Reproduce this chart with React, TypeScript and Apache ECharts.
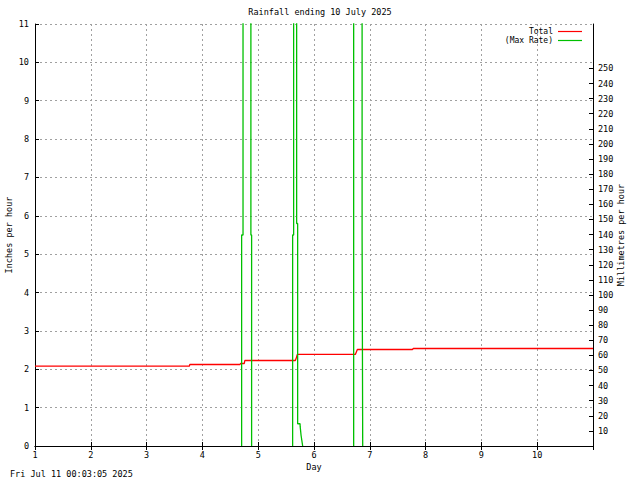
import React, { useEffect, useRef } from "react";
import * as echarts from "echarts";

const titleText = "Rainfall ending 10 July 2025";
const stampText = "Fri Jul 11 00:03:05 2025";

// Total (inches) : day positions and values
const totalDays = [1, 3.765, 3.775, 4.674, 4.684, 4.751, 4.76, 5.666, 5.685, 5.701, 6.741, 6.777, 7.764, 7.78, 11];
const totalValues = [2.08, 2.08, 2.125, 2.125, 2.151, 2.151, 2.229, 2.229, 2.307, 2.386, 2.386, 2.516, 2.516, 2.542, 2.542];

// Max rate (inches/hour); null = gap (zero rate hidden behind the axis)
const rateDays = [
  4.703, 4.703, 4.728, 4.728, 4.869, 4.869, 4.882, 4.882,
  5.2,
  5.617, 5.617, 5.635, 5.635, 5.689, 5.689, 5.707, 5.707, 5.75, 5.752, 5.768, 5.797,
  6.3,
  6.711, 6.711, 6.862, 6.862, 6.873, 6.873,
];
const rateValues = [
  0, 5.5, 5.5, 14, 14, 5.5, 5.5, 0,
  null,
  0, 5.5, 5.5, 14, 14, 5.8, 5.8, 0.58, 0.58, 0.51, 0.28, 0,
  null,
  0, 14, 14, 5.5, 5.5, 0,
];

const mmTicks = [10, 20, 30, 40, 50, 60, 70, 80, 90, 100, 110, 120, 130, 140, 150, 160, 170, 180, 190, 200, 210, 220, 230, 240, 250];

const FONT = "DejaVu Sans Mono";
const FS = 8.5;

export default function App() {
  const ref = useRef<HTMLDivElement>(null);
  useEffect(() => {
    if (!ref.current) return;
    const chart = echarts.init(ref.current, undefined, { renderer: "svg" });
    const textStyle = { fontFamily: FONT, fontSize: FS, color: "#000" };
    const gridLine = { show: true, lineStyle: { color: "#a0a0a0", type: [2, 3] as any, width: 1 } };
    const legendBase = {
      right: 58,
      align: "right",
      icon: "rect",
      itemWidth: 24,
      itemHeight: 1.2,
      itemGap: 2,
      padding: 0,
      inactiveColor: "#000",
      textStyle: { fontFamily: FONT, fontSize: 8, color: "#000", lineHeight: 8, height: 8 },
    };
    chart.setOption({
      animation: false,
      backgroundColor: "#fff",
      textStyle: { fontFamily: FONT },
      title: {
        text: titleText,
        left: "center",
        top: 2,
        textStyle: { ...textStyle, fontWeight: "normal" },
      },
      legend: [
        { ...legendBase, data: ["Total"], top: 27.5 },
        { ...legendBase, data: ["(Max Rate)"], top: 36.5 },
      ],
      grid: { left: 35, right: 47, top: 24, bottom: 34, outerBoundsMode: "none", containLabel: false },
      xAxis: [
        {
          type: "value",
          min: 1,
          max: 11,
          interval: 1,
          name: "Day",
          nameLocation: "middle",
          nameGap: 16,
          nameMoveOverlap: false,
          nameTextStyle: textStyle,
          axisLine: { show: true, lineStyle: { color: "#000", width: 1 } },
          axisTick: { show: true, inside: true, length: 4, lineStyle: { color: "#000" } },
          axisLabel: {
            ...textStyle,
            margin: 4,
            formatter: (v: number) => (v >= 11 ? "" : String(v)),
          },
          splitLine: gridLine,
        },
        {
          type: "value",
          position: "top",
          min: 1,
          max: 11,
          interval: 1,
          axisLine: { show: true, lineStyle: { color: "#000", width: 1 } },
          axisTick: { show: true, inside: true, length: 4, lineStyle: { color: "#000" } },
          axisLabel: { show: false },
          splitLine: { show: false },
        },
      ],
      yAxis: [
        {
          type: "value",
          min: 0,
          max: 11,
          interval: 1,
          name: "Inches per hour",
          nameLocation: "middle",
          nameGap: 22,
          nameMoveOverlap: false,
          nameTextStyle: textStyle,
          axisLine: { show: true, lineStyle: { color: "#000", width: 1 } },
          axisTick: { show: true, inside: true, length: 4, lineStyle: { color: "#000" } },
          axisLabel: { ...textStyle, margin: 6 },
          splitLine: gridLine,
        },
        {
          type: "value",
          position: "right",
          min: 0,
          max: 11 * 25.4,
          name: "Millimetres per hour",
          nameLocation: "middle",
          nameGap: 23,
          nameMoveOverlap: false,
          nameTextStyle: textStyle,
          axisLine: { show: true, lineStyle: { color: "#000", width: 1 } },
          axisTick: { show: true, inside: true, length: 4, customValues: mmTicks, lineStyle: { color: "#000" } },
          axisLabel: { ...textStyle, margin: 5, customValues: mmTicks },
          splitLine: { show: false },
        },
      ],
      series: [
        {
          name: "Total",
          type: "line",
          xAxisIndex: 0,
          yAxisIndex: 0,
          symbol: "none",
          color: "#ff0000",
          lineStyle: { color: "#ff0000", width: 1.3 },
          data: totalDays.map((d, i) => [d, totalValues[i]]),
          clip: true,
        },
        {
          name: "(Max Rate)",
          type: "line",
          xAxisIndex: 0,
          yAxisIndex: 0,
          symbol: "none",
          color: "#00c000",
          connectNulls: false,
          lineStyle: { color: "#00c000", width: 1.3 },
          data: rateDays.map((d, i) => [d, rateValues[i]]),
          clip: true,
        },
      ],
      graphic: [
        {
          type: "text",
          left: 10,
          top: 469,
          style: { text: stampText, font: `${FS}px "${FONT}"`, fill: "#000" },
        },
      ],
    });
    return () => chart.dispose();
  }, []);
  return (
    <div
      ref={ref}
      style={{ position: "absolute", left: 0, top: 0, width: 640, height: 480 }}
    />
  );
}
